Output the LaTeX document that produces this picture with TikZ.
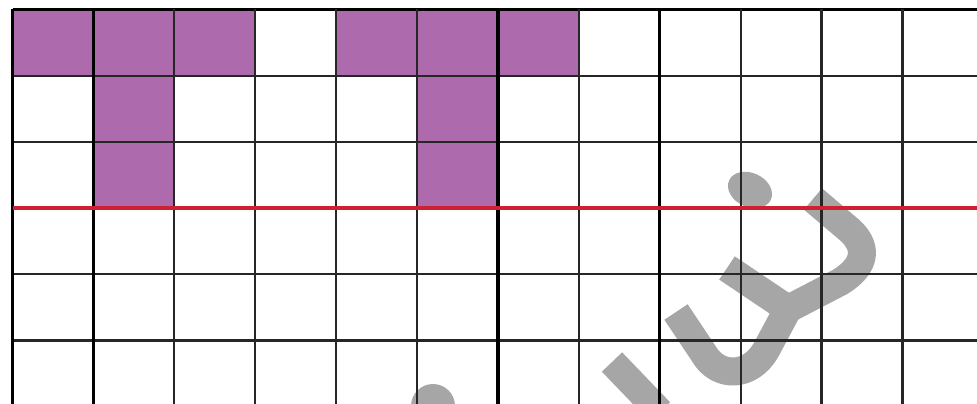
\documentclass[tikz,border=0pt]{standalone}
\definecolor{purp}{RGB}{173,106,173}
\definecolor{redl}{RGB}{205,32,48}
\definecolor{wm}{RGB}{166,166,166}
\begin{document}
\begin{tikzpicture}[x=1pt,y=-1pt,
  gl/.style={line width=2.2pt,black!85},
  glthick/.style={line width=3.2pt,black},
  wmk/.style={wm,line width=28pt,line join=round}]
\useasboundingbox (0,0) rectangle (977,404);
\fill[white] (0,0) rectangle (977,404);
% purple cells
\foreach \c/\r in {0/0,1/0,2/0,4/0,5/0,6/0,1/1,1/2,5/1,5/2}
  \fill[purp] ({12.5+80.9*\c},{9.5+66.2*\r}) rectangle ++(80.9,66.2);
% watermark
\fill[wm,rotate around={-25:(750,190)}] (750,190) ellipse [x radius=23, y radius=17];
\fill[wm] (433,406) circle (22);
\draw[wmk] (813,199) -- (846,227) .. controls (870,246) and (866,266) .. (840,282) -- (788,309);
\draw[wmk] (727,268) -- (788,309);
\draw[wmk] (676,312) -- (704,354) .. controls (718,378) and (750,378) .. (766,350) -- (788,309);
\draw[wmk] (612,362) -- (660,412);
% grid
\foreach \r in {1,2,4,5}
  \draw[gl] (12.5,{9.5+66.2*\r}) -- (977,{9.5+66.2*\r});
\draw[glthick] (12.5,9.5) -- (977,9.5);
\foreach \c in {2,3,4,5,7,9,10,11}
  \draw[gl] ({12.5+80.9*\c},9.5) -- ({12.5+80.9*\c},404);
\foreach \c in {0,1,6,8}
  \draw[glthick] ({12.5+80.9*\c},9.5) -- ({12.5+80.9*\c},404);
\draw[redl,line width=4pt] (12.5,{9.5+66.2*3}) -- (977,{9.5+66.2*3});
\end{tikzpicture}
\end{document}
